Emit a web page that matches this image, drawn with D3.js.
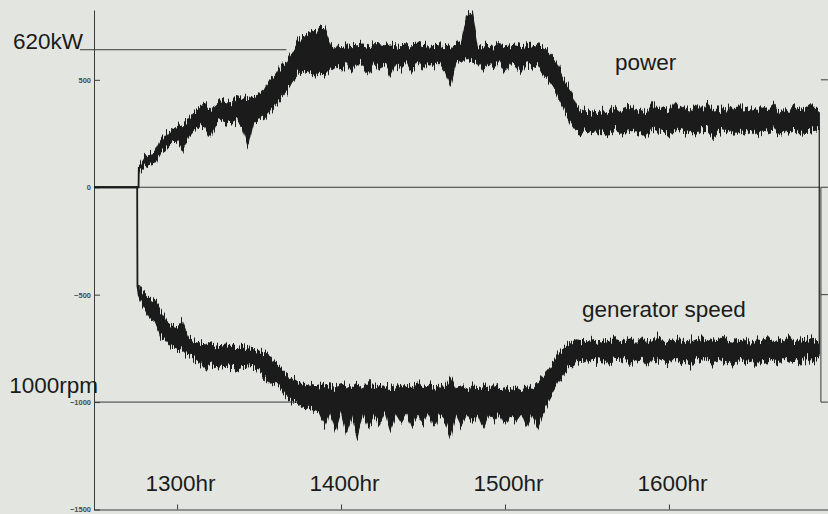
<!DOCTYPE html>
<html><head><meta charset="utf-8">
<script src="https://cdn.jsdelivr.net/npm/d3@7/dist/d3.min.js"></script>
<style>
html,body{margin:0;padding:0;background:#e3e6e0;}
svg{display:block;}
</style></head><body>
<svg id="chart" width="828" height="514"></svg>
<script>
// ---------- data (time = minutes after 12:00, values in chart axis units) ----------
const xTickValues = [60, 120, 180, 240];
const xTickLabels = ["1300hr", "1400hr", "1500hr", "1600hr"];
const yTickValues = [500, 0, -500, -1000, -1500];
const rightTickValues = [500, 0, -500, -1000];

// [minute, low envelope, high envelope]
const powerTrace = [
 [29.6,0,0],[45.9,0,0],
 [46,71,94],[48,94,136],[50,108,155],[52,113,164],[54,164,220],[56,183,253],[58,211,262],[60,216,281],
 [62,174,290],[64,234,313],[66,267,346],[68,281,360],[70,285,392],[72,234,351],[74,295,383],[76,313,406],
 [78,304,397],[80,295,392],[82,313,425],[84,285,416],[86,188,411],[88,304,420],[90,309,430],[92,323,453],
 [94,351,500],[96,388,518],[98,416,560],[100,444,583],[102,490,630],[104,523,676],[106,546,709],[108,537,718],
 [110,518,728],[112,537,732],[114,523,746],[116,555,676],[118,574,658],[120,546,653],[122,579,658],[124,537,653],
 [126,583,658],[128,565,662],[130,527,653],[132,579,658],[134,546,658],[136,583,653],[138,523,662],[140,574,658],
 [142,555,653],[144,583,658],[146,537,658],[148,579,662],[150,546,653],[152,583,658],[154,565,653],[156,579,658],
 [158,546,653],[160,472,658],[162,574,653],[164,583,667],[166,611,802],[168,593,816],[170,583,658],[172,546,658],
 [174,579,653],[176,555,658],[178,583,658],[180,537,653],[182,583,658],[184,565,662],[186,537,653],[188,579,658],
 [190,555,662],[192,569,653],[194,523,648],[196,500,630],[198,462,602],[200,406,546],[202,351,490],[204,304,444],
 [206,267,383],[208,253,360],[210,253,346],[212,267,355],[214,243,341],[216,262,360],[218,248,351],[220,267,369],
 [222,257,346],[224,234,355],[226,271,378],[228,253,351],[230,267,365],[232,243,346],[234,271,388],[236,257,355],
 [238,267,369],[240,239,351],[242,271,397],[244,262,360],[246,253,369],[248,267,355],[250,243,378],[252,267,351],
 [254,271,388],[256,234,360],[258,267,369],[260,257,351],[262,271,374],[264,239,355],[266,267,383],[268,257,360],
 [270,271,369],[272,243,351],[274,267,378],[276,262,360],[278,271,388],[280,248,355],[282,267,369],[284,257,351],
 [286,271,378],[288,243,360],[290,267,369],[292,262,388],[294,267,360],[295,276,351]
];

const speedTrace = [
 [29.6,0,0],[45.4,0,0],[45.5,-459,-459],
 [46,-506,-459],[48,-562,-497],[50,-608,-520],[52,-627,-534],[54,-692,-580],[56,-711,-627],[58,-743,-646],
 [60,-753,-655],[62,-757,-627],[64,-781,-701],[66,-795,-720],[68,-813,-729],[70,-850,-739],[72,-818,-720],
 [74,-832,-739],[76,-837,-743],[78,-832,-734],[80,-841,-743],[82,-846,-748],[84,-837,-739],[86,-841,-753],
 [88,-837,-757],[90,-850,-767],[92,-878,-771],[94,-916,-785],[96,-911,-823],[98,-939,-846],[100,-972,-874],
 [102,-990,-888],[104,-1004,-906],[106,-1023,-916],[108,-1027,-925],[110,-1037,-930],[112,-1046,-920],
 [114,-1107,-930],[116,-1046,-925],[118,-1130,-934],[120,-1041,-925],[122,-1144,-920],[124,-1055,-934],
 [126,-1162,-916],[128,-1046,-930],[130,-1120,-906],[132,-1055,-934],[134,-1102,-925],[136,-1041,-920],
 [138,-1130,-939],[140,-1051,-925],[142,-1093,-911],[144,-1046,-934],[146,-1116,-930],[148,-1051,-916],
 [150,-1102,-934],[152,-1046,-925],[154,-1111,-939],[156,-1051,-925],[158,-1083,-934],[160,-1162,-883],
 [162,-1051,-939],[164,-1107,-930],[166,-1055,-944],[168,-1093,-925],[170,-1051,-939],[172,-1120,-930],
 [174,-1055,-944],[176,-1083,-925],[178,-1051,-939],[180,-1107,-934],[182,-1055,-944],[184,-1088,-925],
 [186,-1051,-939],[188,-1116,-920],[190,-1055,-934],[192,-1120,-911],[194,-1046,-878],[196,-990,-850],
 [198,-944,-813],[200,-897,-767],[202,-864,-748],[204,-837,-725],[206,-813,-711],[208,-804,-715],
 [210,-818,-725],[212,-799,-706],[214,-813,-729],[216,-795,-711],[218,-827,-720],[220,-799,-697],
 [222,-809,-725],[224,-795,-715],[226,-823,-706],[228,-804,-729],[230,-799,-701],[232,-832,-725],
 [234,-795,-715],[236,-809,-692],[238,-799,-725],[240,-823,-711],[242,-795,-720],[244,-813,-701],
 [246,-804,-729],[248,-832,-706],[250,-795,-720],[252,-809,-697],[254,-799,-725],[256,-827,-711],
 [258,-795,-715],[260,-813,-692],[262,-804,-725],[264,-823,-706],[266,-795,-720],[268,-809,-701],
 [270,-799,-729],[272,-832,-711],[274,-795,-715],[276,-813,-697],[278,-804,-725],[280,-823,-706],
 [282,-795,-720],[284,-809,-692],[286,-799,-725],[288,-827,-711],[290,-795,-715],[292,-813,-701],
 [294,-804,-720],[295,-795,-729]
];

// reference lines
const refLabels = ["620kW", "1000rpm"];
const refValues = [640, -1000];
const refStarts = [24.5, 29.6];
const refEnds = [100, 106];
const seriesLabels = ["power", "generator speed"];
const zeroLineStart = 29.6, zeroLineEnd = 295.3;
const rightAxisMinute = 295.6;
const noisyFrom = 46;

// ---------- layout ----------
const svg = d3.select("#chart");
const x = d3.scaleLinear().domain([29.6, 298.2]).range([94, 828]);
const y = d3.scaleLinear().domain([-1500, 825]).range([509.5, 10]);
const INK = "#1b1b1b", AX = "#3a3a3a";
const FONT = "'Liberation Sans', Arial, Helvetica, sans-serif";

// recorder-trace texture: vertical jitter of the band edges
const defs = svg.append("defs");
const f = defs.append("filter").attr("id", "jitter")
  .attr("filterUnits", "userSpaceOnUse").attr("x", 0).attr("y", 0).attr("width", 828).attr("height", 514)
  .attr("color-interpolation-filters", "sRGB");
f.append("feTurbulence").attr("type", "fractalNoise").attr("baseFrequency", "0.7 0.012")
  .attr("numOctaves", 2).attr("seed", 7).attr("result", "noise");
f.append("feColorMatrix").attr("in", "noise").attr("type", "matrix")
  .attr("values", "0 0 0 0 0.5  0 1 0 0 0  0 0 1 0 0  0 0 0 0 1").attr("result", "vnoise");
f.append("feDisplacementMap").attr("in", "SourceGraphic").attr("in2", "vnoise")
  .attr("scale", 18).attr("xChannelSelector", "R").attr("yChannelSelector", "G");

// zero line
svg.append("line")
  .attr("x1", x(zeroLineStart)).attr("x2", x(zeroLineEnd))
  .attr("y1", y(0)).attr("y2", y(0))
  .attr("stroke", AX).attr("stroke-width", 1);

// reference lines
refValues.forEach((v, i) => {
  svg.append("line")
    .attr("x1", x(refStarts[i])).attr("x2", x(refEnds[i]))
    .attr("y1", y(v)).attr("y2", y(v))
    .attr("stroke", AX).attr("stroke-width", 1);
});

// left axis
const yAxis = d3.axisLeft(y).tickValues(yTickValues).tickSize(-6).tickSizeOuter(0).tickPadding(3)
  .tickFormat(d3.format("d"));
const gy = svg.append("g").attr("transform", `translate(${x.range()[0]},0)`).call(yAxis);
gy.select(".domain").attr("stroke", AX);
gy.selectAll(".tick line").attr("stroke", AX);
gy.selectAll(".tick text").attr("fill", "#4a4a4a").style("font-family", FONT).style("font-size", "7.5px").style("font-weight", "bold");

// bottom axis (ticks point up, labels above)
const xAxis = d3.axisTop(x).tickValues(xTickValues).tickSize(5).tickSizeOuter(0).tickPadding(14)
  .tickFormat((d, i) => xTickLabels[i]);
const gx = svg.append("g").attr("transform", `translate(0,${y(-1500)})`).call(xAxis);
gx.select(".domain").attr("stroke", AX);
gx.selectAll(".tick line").attr("stroke", AX);
gx.selectAll(".tick text").attr("fill", INK).attr("dx", 3)
  .style("font-family", FONT).style("font-size", "22.5px");

// right axis fragment
svg.append("line")
  .attr("x1", x(rightAxisMinute)).attr("x2", x(rightAxisMinute))
  .attr("y1", y(0)).attr("y2", y(-1000))
  .attr("stroke", AX).attr("stroke-width", 1);
svg.selectAll(".rtick").data(rightTickValues).enter().append("line")
  .attr("x1", x(rightAxisMinute)).attr("x2", x(rightAxisMinute) + 7)
  .attr("y1", d => y(d)).attr("y2", d => y(d))
  .attr("stroke", AX).attr("stroke-width", 1);

// traces
const band = d3.area()
  .x(d => x(d[0])).y0(d => y(d[1])).y1(d => y(d[2]))
  .curve(d3.curveLinear);
[powerTrace, speedTrace].forEach(tr => {
  // quiet pre-start segment and jump (clean)
  svg.append("path").datum(tr.filter(d => d[0] <= noisyFrom)).attr("d", band)
    .attr("fill", INK).attr("stroke", INK).attr("stroke-width", 1.8);
  // running part (recorder texture)
  svg.append("path").datum(tr.filter(d => d[0] >= noisyFrom)).attr("d", band)
    .attr("fill", INK).attr("stroke", INK).attr("stroke-width", 1.3).attr("stroke-linejoin", "round")
    .attr("filter", "url(#jitter)");
});

// end connector between the two traces
const pLast = powerTrace[powerTrace.length - 1], sLast = speedTrace[speedTrace.length - 1];
svg.append("line")
  .attr("x1", x(pLast[0])).attr("x2", x(sLast[0]))
  .attr("y1", y(pLast[1])).attr("y2", y(sLast[2]))
  .attr("stroke", INK).attr("stroke-width", 1.2);

// annotation texts
const txt = (s, px, py, anchor) => svg.append("text").text(s)
  .attr("x", px).attr("y", py).attr("text-anchor", anchor || "start")
  .attr("fill", INK).style("font-family", FONT).style("font-size", "22.5px");
txt(refLabels[0], x(refStarts[0]) + 3, y(refValues[0]) - 1, "end");
txt(refLabels[1], x(refStarts[1]) + 4, y(refValues[1]) - 9, "end");
txt(seriesLabels[0], 615, 70);
txt(seriesLabels[1], 582, 317);
</script>
</body></html>
